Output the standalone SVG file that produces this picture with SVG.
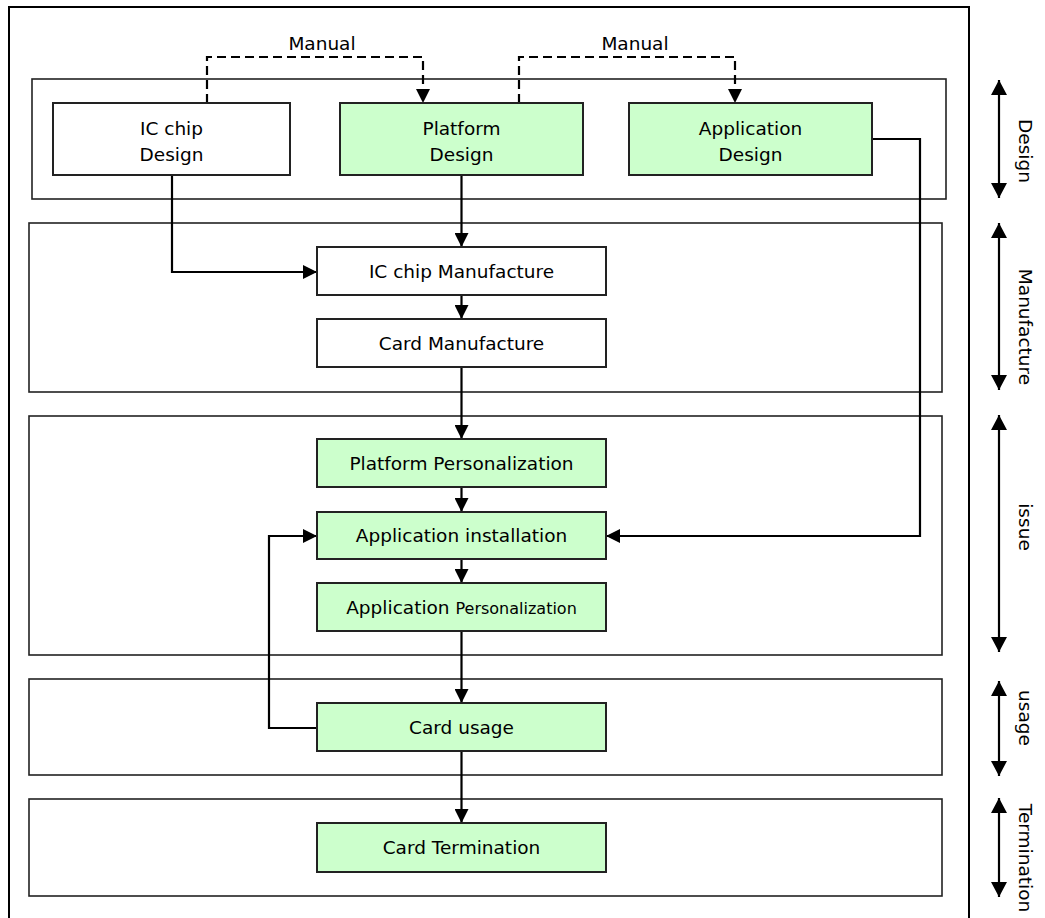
<svg xmlns="http://www.w3.org/2000/svg" width="1045" height="918" viewBox="0 0 1045 918">
<style>
.frame{fill:none;stroke:#000;stroke-width:2}
.cont{fill:none;stroke:#222;stroke-width:1.6}
.box{fill:#fff;stroke:#222;stroke-width:2}
.g{fill:#ccffcc}
.t{font-family:"DejaVu Sans",Verdana,sans-serif;font-size:18.5px;fill:#000;text-anchor:middle}
.c{fill:none;stroke:#000;stroke-width:2.2}
.d{fill:none;stroke:#000;stroke-width:2.2;stroke-dasharray:9,5}
</style>
<defs>
<marker id="ah" viewBox="0 0 14 14" refX="14" refY="7" markerWidth="14" markerHeight="14" markerUnits="userSpaceOnUse" orient="auto"><path d="M0,0 L14,7 L0,14 z" fill="#000"/></marker>
<marker id="sa" viewBox="0 0 15 16" refX="15" refY="8" markerWidth="15" markerHeight="16" markerUnits="userSpaceOnUse" orient="auto-start-reverse"><path d="M0,0 L15,8 L0,16 z" fill="#000"/></marker>
</defs>
<rect width="1045" height="918" fill="#fff"/>
<rect class="frame" x="9" y="7" width="960" height="915"/>
<g id="containers">
<rect class="cont" x="32" y="79" width="914" height="120"/>
<rect class="cont" x="29" y="223" width="913" height="169"/>
<rect class="cont" x="29" y="416" width="913" height="239"/>
<rect class="cont" x="29" y="679" width="913" height="96"/>
<rect class="cont" x="29" y="799" width="913" height="97"/>
</g>
<g id="connectors">
<path class="d" d="M207,103 V57 H423 V103" marker-end="url(#ah)"/>
<path class="d" d="M519,103 V57 H735 V103" marker-end="url(#ah)"/>
<path class="c" d="M172,175 V272 H317" marker-end="url(#ah)"/>
<path class="c" d="M461.5,175 V247" marker-end="url(#ah)"/>
<path class="c" d="M461.5,295 V319" marker-end="url(#ah)"/>
<path class="c" d="M461.5,367 V439" marker-end="url(#ah)"/>
<path class="c" d="M461.5,487 V512" marker-end="url(#ah)"/>
<path class="c" d="M461.5,559 V583" marker-end="url(#ah)"/>
<path class="c" d="M461.5,631 V703" marker-end="url(#ah)"/>
<path class="c" d="M461.5,751 V823" marker-end="url(#ah)"/>
<path class="c" d="M317,728 H269 V536 H317" marker-end="url(#ah)"/>
<path class="c" d="M872,139 H920 V536 H606" marker-end="url(#ah)"/>
<path class="c" d="M999,80 V198" marker-start="url(#sa)" marker-end="url(#sa)"/>
<path class="c" d="M999,223 V390" marker-start="url(#sa)" marker-end="url(#sa)"/>
<path class="c" d="M999,415 V652" marker-start="url(#sa)" marker-end="url(#sa)"/>
<path class="c" d="M999,681 V776" marker-start="url(#sa)" marker-end="url(#sa)"/>
<path class="c" d="M999,798 V897" marker-start="url(#sa)" marker-end="url(#sa)"/>
</g>
<g id="labels">
<text class="t" x="322" y="50">Manual</text>
<text class="t" x="635" y="50">Manual</text>
<text class="t" transform="translate(1025,151) rotate(90)" y="6.5">Design</text>
<text class="t" transform="translate(1025,327) rotate(90)" y="6.5">Manufacture</text>
<text class="t" transform="translate(1025,527) rotate(90)" y="6.5">issue</text>
<text class="t" transform="translate(1025,718) rotate(90)" y="6.5">usage</text>
<text class="t" transform="translate(1025,858) rotate(90)" y="6.5">Termination</text>
</g>
<g id="ic-chip-design"><rect class="box" x="53" y="103" width="237" height="72"/><text class="t" x="171.5" y="135">IC chip</text><text class="t" x="171.5" y="160.5">Design</text></g>
<g id="platform-design"><rect class="box g" x="340" y="103" width="243" height="72"/><text class="t" x="461.5" y="135">Platform</text><text class="t" x="461.5" y="160.5">Design</text></g>
<g id="application-design"><rect class="box g" x="629" y="103" width="243" height="72"/><text class="t" x="750.5" y="135">Application</text><text class="t" x="750.5" y="160.5">Design</text></g>
<g id="ic-chip-manufacture"><rect class="box" x="317" y="247" width="289" height="48"/><text class="t" x="461.5" y="277.5">IC chip Manufacture</text></g>
<g id="card-manufacture"><rect class="box" x="317" y="319" width="289" height="48"/><text class="t" x="461.5" y="349.5">Card Manufacture</text></g>
<g id="platform-personalization"><rect class="box g" x="317" y="439" width="289" height="48"/><text class="t" x="461.5" y="469.5">Platform Personalization</text></g>
<g id="application-installation"><rect class="box g" x="317" y="512" width="289" height="47"/><text class="t" x="461.5" y="542">Application installation</text></g>
<g id="application-personalization"><rect class="box g" x="317" y="583" width="289" height="48"/><text class="t" x="461.5" y="613.5">Application <tspan font-size="16">Personalization</tspan></text></g>
<g id="card-usage"><rect class="box g" x="317" y="703" width="289" height="48"/><text class="t" x="461.5" y="733.5">Card usage</text></g>
<g id="card-termination"><rect class="box g" x="317" y="823" width="289" height="49"/><text class="t" x="461.5" y="854">Card Termination</text></g>
</svg>
